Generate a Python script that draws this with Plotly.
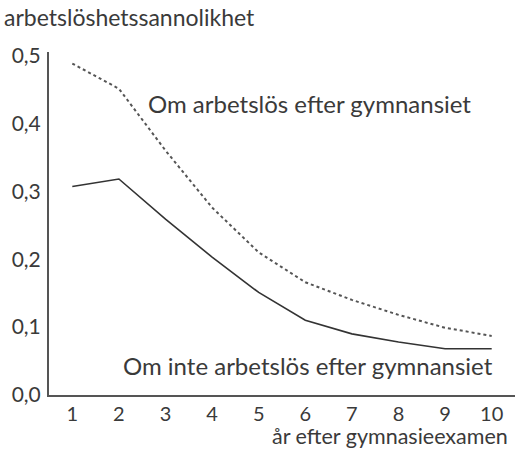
import plotly.graph_objects as go

years = [1, 2, 3, 4, 5, 6, 7, 8, 9, 10]
unemployed_after = [0.488, 0.451, 0.360, 0.276, 0.210, 0.166, 0.140, 0.118, 0.099, 0.087]
not_unemployed_after = [0.307, 0.318, 0.259, 0.203, 0.151, 0.110, 0.090, 0.078, 0.068, 0.068]
y_ticks = [0.0, 0.1, 0.2, 0.3, 0.4, 0.5]
x_ticks = years

FONT = "Lato"
TXT = "#3a3a3a"

fig = go.Figure()
fig.add_trace(go.Scatter(x=years, y=unemployed_after, mode="lines",
                         line=dict(color="#555555", width=2, dash="dot"),
                         showlegend=False, hoverinfo="skip"))
fig.add_trace(go.Scatter(x=years, y=not_unemployed_after, mode="lines",
                         line=dict(color="#333333", width=1.6),
                         showlegend=False, hoverinfo="skip"))

W, H = 515, 452
L, R, T, B = 49, 0, 52, 57

fig.update_layout(
    width=W, height=H,
    margin=dict(l=L, r=R, t=T, b=B, pad=0, autoexpand=False),
    paper_bgcolor="white", plot_bgcolor="white",
    separators=",.",
    font=dict(family=FONT, size=21, color=TXT),
    xaxis=dict(range=[0.5, 10.5], tickvals=x_ticks, showgrid=False, zeroline=False,
               showline=True, linecolor="#555555", linewidth=2, ticks="",
               automargin=False,
               ticklabelstandoff=0, tickfont=dict(size=20, color=TXT, family=FONT),
               fixedrange=True),
    yaxis=dict(range=[0, 0.505], tickvals=y_ticks, tickformat=".1f", showgrid=False,
               zeroline=False, showline=True, linecolor="#555555", linewidth=2,
               automargin=False,
               ticks="", ticklabelstandoff=2, tickfont=dict(size=21, color=TXT, family=FONT),
               fixedrange=True),
    annotations=[
        dict(text="arbetslöshetssannolikhet", xref="paper", yref="paper",
             x=-0.101, y=1.102, xanchor="left", yanchor="middle", showarrow=False,
             font=dict(size=23, color=TXT, family=FONT)),
        dict(text="år efter gymnasieexamen", xref="paper", yref="paper",
             x=0.989, y=-0.163, xanchor="right", yanchor="bottom", showarrow=False,
             font=dict(size=21.5, color=TXT, family=FONT)),
        dict(text="Om arbetslös efter gymnansiet", xref="paper", yref="paper",
             x=0.558, y=0.851, xanchor="center", yanchor="middle", showarrow=False,
             font=dict(size=24, color=TXT, family=FONT)),
        dict(text="Om inte arbetslös efter gymnansiet", xref="paper", yref="paper",
             x=0.556, y=0.087, xanchor="center", yanchor="middle", showarrow=False,
             font=dict(size=24, color=TXT, family=FONT)),
    ],
)

fig.write_html("out.html", config={"displayModeBar": False},
               post_script="document.body.style.margin='0';document.body.style.overflow='hidden';")
